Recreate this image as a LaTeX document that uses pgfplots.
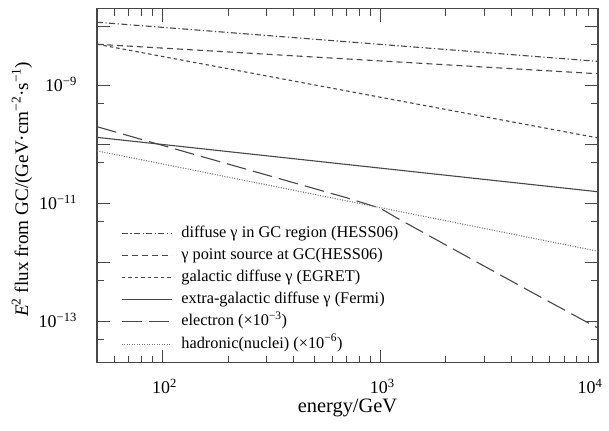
\documentclass[border=0pt]{standalone}
\usepackage{fontspec}
\setmainfont{Liberation Serif}
\usepackage{pgfplots}
\pgfplotsset{compat=1.18}

\definecolor{ink}{gray}{0.28}

\begin{document}
\begin{tikzpicture}
\useasboundingbox (-97bp,-68bp) rectangle (512bp,362.7bp);
\begin{axis}[
    at={(0,0)}, anchor=south west,
    scale only axis, width=501bp, height=354bp,
    xmode=log, ymode=log,
    xmin=50, xmax=10000,
    ymin=2e-14, ymax=2e-8,
    axis line style={ink, line width=1.1bp},
    tick style={ink, line width=0.9bp},
    tick align=inside,
    major tick length=13bp, minor tick length=7bp,
    xtick={100,1000,10000},
    xticklabels={10\textsuperscript{2},10\textsuperscript{3},{\hspace*{-20bp}10\textsuperscript{4}}},
    minor xtick={50,60,70,80,90,200,300,400,500,600,700,800,900,2000,3000,4000,5000,6000,7000,8000,9000},
    ytick={1e-13,1e-12,1e-11,1e-10,1e-9,1e-8},
    yticklabels={10\textsuperscript{−13},,10\textsuperscript{−11},,10\textsuperscript{−9},},
    minor ytick={5e-14,5e-13,5e-12,5e-11,5e-10,5e-9},
    xticklabel style={font=\fontsize{18}{20}\selectfont, anchor=base, inner sep=0pt, yshift=-31bp, xshift=2bp},
    yticklabel style={font=\fontsize{18}{20}\selectfont, anchor=base east, inner sep=0pt, xshift=-20bp, yshift=-6bp},
    xlabel={energy/GeV},
    ylabel={\textit{E}\textsuperscript{2} flux from GC/(GeV·cm\textsuperscript{−2}·s\textsuperscript{−1})},
    xlabel style={font=\fontsize{20.5}{22}\selectfont, at={(axis description cs:0.5,0)}, anchor=base, inner sep=0pt, yshift=-50bp},
    ylabel style={font=\fontsize{19.2}{21}\selectfont, at={(axis description cs:-0.1377,0.49)}, anchor=base, inner sep=0pt},
    legend cell align=left,
    legend style={at={(axis description cs:0.048,0.392)}, anchor=north west,
        draw=none, fill=none, inner sep=0pt, row sep=4.2bp,
        font=\fontsize{16.4}{18}\selectfont,
        nodes={inner sep=1bp, text height=12bp, text depth=4bp},
        /tikz/every odd column/.append style={column sep=8bp}},
    legend image code/.code={\draw[#1] (0bp,0bp) -- (50bp,0bp);},
    every axis plot/.append style={ink, line width=1.1bp},
]

% diffuse gamma in GC region (HESS06)
\addplot[dash pattern=on 6bp off 2.5bp on 1.2bp off 2.5bp] coordinates {(50,1.18e-8) (10000,2.56e-9)};
% gamma point source at GC (HESS06)
\addplot[dash pattern=on 6bp off 4bp] coordinates {(50,5.0e-9) (10000,1.58e-9)};
% galactic diffuse gamma (EGRET)
\addplot[dash pattern=on 3.5bp off 3bp] coordinates {(50,5.0e-9) (10000,1.29e-10)};
% extra-galactic diffuse gamma (Fermi)
\addplot[solid] coordinates {(50,1.32e-10) (10000,1.58e-11)};
% electron (x1e-3)
\addplot[dash pattern=on 20bp off 7bp] coordinates {
    (50,2.0e-10) (100,9.64e-11) (200,4.66e-11) (500,1.78e-11) (700,1.25e-11)
    (850,1.0e-11) (1000,8.3e-12) (1200,5.6e-12) (2000,1.98e-12) (5000,3.08e-13)
    (10000,7.7e-14)};
% hadronic (nuclei) (x1e-6)
\addplot[dash pattern=on 1bp off 1.5bp, black!55] coordinates {(50,7.8e-11) (10000,1.55e-12)};

\legend{diffuse γ in GC region (HESS06),
        γ point source at GC(HESS06),
        galactic diffuse γ (EGRET),
        extra-galactic diffuse γ (Fermi),
        electron (×10\textsuperscript{−3}),
        hadronic(nuclei) (×10\textsuperscript{−6})}
\end{axis}
\end{tikzpicture}
\end{document}
